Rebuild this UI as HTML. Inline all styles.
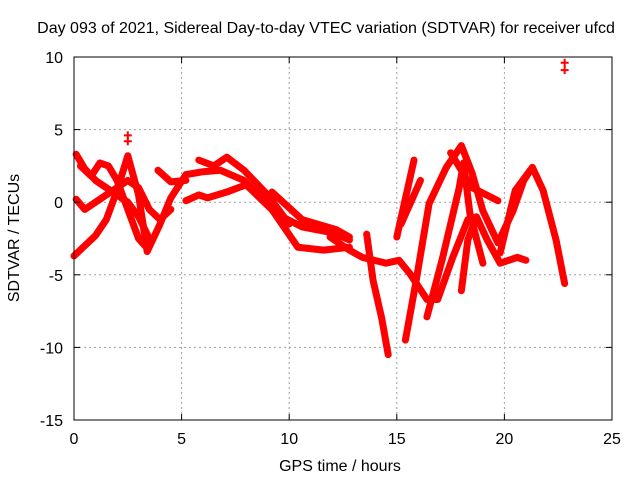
<!DOCTYPE html>
<html><head><meta charset="utf-8"><style>
body{margin:0;background:#fff;}
svg{display:block;font-family:"Liberation Sans",sans-serif;}
</style></head><body>
<svg id="c" width="640" height="480">
<text x="326" y="33" font-size="16" text-anchor="middle">Day 093 of 2021, Sidereal Day-to-day VTEC variation (SDTVAR) for receiver ufcd</text>
<text x="340" y="471" font-size="16" text-anchor="middle">GPS time / hours</text>
<text transform="translate(19,238) rotate(-90)" font-size="16" text-anchor="middle">SDTVAR / TECUs</text>
<g id="grid"></g><g id="marks"></g>
<rect x="74" y="57" width="538" height="363" fill="none" stroke="#000"/>
<g id="ticks"></g>
</svg>
<script>
const xTicks=[0,5,10,15,20,25];
const yTicks=[10,5,0,-5,-10,-15];
const track1=[[0,-3.7],[0.5,-3],[1,-2.3],[1.5,-1.2],[2,0.8],[2.5,3.2],[3,0.5],[3.4,-3.4],[4,-1.5],[4.5,0.3],[5.2,1.9],[6,2.1],[6.8,2.2],[7.9,1.5],[9.1,-0.3],[10.4,-3.1],[11.6,-3.3],[12.8,-3.1]];
const track2=[[3.9,2.2],[4.5,1.4],[5.2,1.5]];
const track3=[[5.2,0.1],[5.8,0.5],[6.2,0.3],[7.1,0.7],[8,1.2],[9.4,-0.8],[10.6,-1.7],[12,-2.1],[12.8,-2.6]];
const track4=[[5.8,2.9],[6.5,2.5],[7.1,3.1],[7.9,2.2],[9,0.5],[10,-1.5]];
const track5=[[9.2,0.7],[10.6,-1.2],[12.2,-1.9],[12.8,-2.4]];
const track6=[[0.1,3.3],[0.5,2.3],[1,1.5],[1.5,1],[2,0.5],[2.5,0],[3,-1],[3.5,-2.5]];
const track7=[[0.1,0.2],[0.5,-0.5],[1,0],[1.5,0.5],[2,1],[2.5,1.5],[3,1],[3.5,-0.5],[4,-1.2],[4.5,-0.5]];
const track8=[[0.3,2.5],[0.8,1.8],[1.2,2.7],[1.6,2.5],[2,1.5],[2.5,-0.5],[3,-2.5],[3.3,-3]];
const track9=[[11.9,-2.4],[12.8,-3.3],[13.4,-3.8],[14.5,-4.2],[15.1,-4],[15.6,-4.9],[16.4,-6.7],[16.9,-6.7],[17.6,-3.8],[18.3,-1.2]];
const track10=[[13.6,-2.2],[13.9,-5.4],[14.3,-8],[14.6,-10.5]];
const track11=[[15.4,-9.5],[15.9,-5.4],[16.5,-0.1],[17.3,2.4],[18,3.9],[18.5,2],[19,-0.6],[19.7,-2.8],[20.4,-0.6],[20.9,1.5],[21.3,2.4],[21.8,0.8],[22.4,-2.6],[22.8,-5.6]];
const track12=[[16.4,-7.9],[17.1,-4],[17.9,1],[18.1,2.7],[18.4,-0.8],[19,-4.2]];
const track13=[[18,-6.1],[18.3,-2.6],[18.7,-1],[19.2,-2.6],[19.8,-4.2],[20.6,-3.8],[21,-4]];
const track14=[[17.5,3.4],[18.5,1],[19.7,0.1]];
const track15=[[15,-2.4],[15.8,2.9]];
const track16=[[15.2,-1.5],[16.1,1.5]];
const track17=[[19.8,-3.5],[20.5,0.8],[21.2,2.2]];
const outliers=[[2.5,4.6],[2.5,4.2],[22.8,9.6],[22.8,9.1]];
const tracks=[track1,track2,track3,track4,track5,track6,track7,track8,track9,track10,track11,track12,track13,track14,track15,track16,track17];
const X=t=>74+t*538/25, Y=v=>57+(10-v)*363/25;
const NS="http://www.w3.org/2000/svg";
const grid=document.getElementById('grid'),marks=document.getElementById('marks'),ticks=document.getElementById('ticks');
function mk(tag,at,parent){const e=document.createElementNS(NS,tag);for(const k in at)e.setAttribute(k,at[k]);parent.appendChild(e);return e;}
xTicks.forEach(t=>{
 if(t>0&&t<25){const g=mk('line',{x1:X(t),x2:X(t),y1:57,y2:420,stroke:'#a0a0a0','stroke-dasharray':'2,3'},grid);
 
 }
 const l=mk('text',{x:X(t),y:444,'font-size':16,'text-anchor':'middle'},ticks);l.textContent=t;
 
 
});
yTicks.forEach(v=>{
 if(v>-15&&v<10){const g=mk('line',{x1:74,x2:612,y1:Y(v),y2:Y(v),stroke:'#a0a0a0','stroke-dasharray':'2,3'},grid);
 
 }
 const l=mk('text',{x:63,y:Y(v)+6,'font-size':16,'text-anchor':'end'},ticks);l.textContent=v;
 
 
 mk('line',{x1:74,x2:80,y1:Y(v),y2:Y(v),stroke:'#000'},ticks);
 mk('line',{x1:606,x2:612,y1:Y(v),y2:Y(v),stroke:'#000'},ticks);
});
xTicks.forEach(t=>{mk('line',{x1:X(t),x2:X(t),y1:414,y2:420,stroke:'#000'},ticks);mk('line',{x1:X(t),x2:X(t),y1:57,y2:63,stroke:'#000'},ticks);});
tracks.forEach(tr=>{
 const p=mk('polyline',{points:tr.map(d=>X(d[0])+','+Y(d[1])).join(' '),fill:'none',stroke:'#ff0000','stroke-width':7,'stroke-linejoin':'round','stroke-linecap':'round'},marks);
 
 
});
outliers.forEach(d=>{
 const p=mk('path',{d:`M${X(d[0])-4},${Y(d[1])}h8M${X(d[0])},${Y(d[1])-4}v8`,stroke:'#ff0000','stroke-width':2},marks);
 
 
});
</script>
</body></html>
